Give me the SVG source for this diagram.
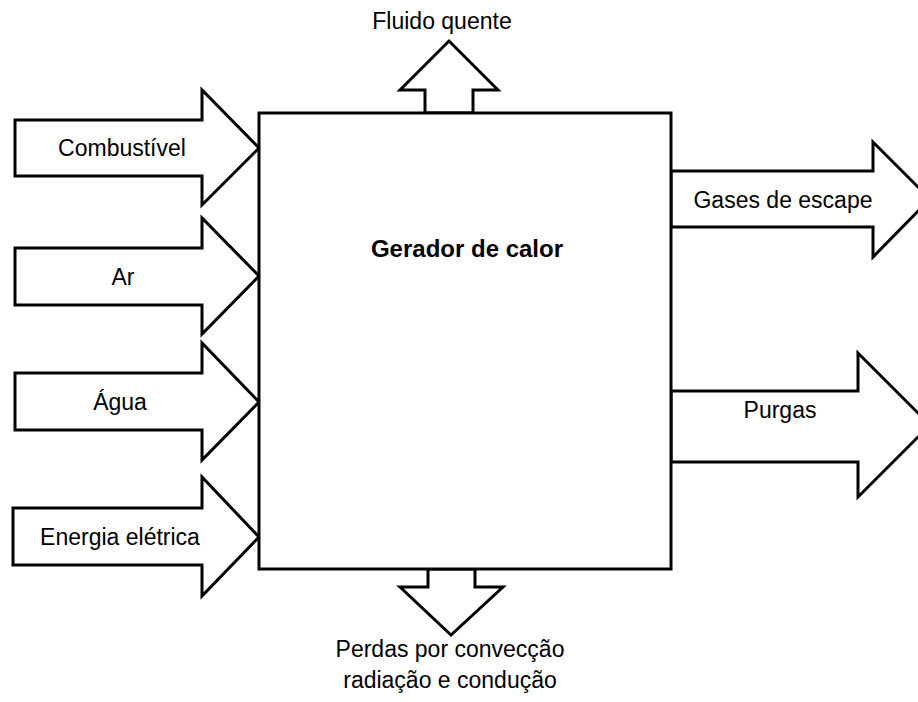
<svg xmlns="http://www.w3.org/2000/svg" width="918" height="702" viewBox="0 0 918 702">
<style>
.shape{fill:#fff;stroke:#000;stroke-width:3;stroke-linejoin:miter}
.t{font-family:"Liberation Sans",Arial,sans-serif;font-size:23px;fill:#000;text-anchor:middle}
.b{font-weight:bold;font-size:24px}
</style>
<rect width="918" height="702" fill="#fff"/>
<g id="connectors">
<g id="arrow-combustivel"><polygon class="shape" points="15,120 202,120 202,90 259,148 202,205 202,176 15,176"/><text class="t" x="122" y="156">Combustível</text></g>
<g id="arrow-ar"><polygon class="shape" points="15,248 202,248 202,218 259,276 202,334 202,305 15,305"/><text class="t" x="123" y="285">Ar</text></g>
<g id="arrow-agua"><polygon class="shape" points="15,373 202,373 202,343 259,402 202,460 202,430 15,430"/><text class="t" x="120" y="410">Água</text></g>
<g id="arrow-energia"><polygon class="shape" points="13,508 202,508 202,477 259,537 202,596 202,565 13,565"/><text class="t" x="120" y="545">Energia elétrica</text></g>
<g id="arrow-fluido"><polygon class="shape" points="425,113 425,90 400,90 449,41 498,90 473,90 473,113"/><text class="t" x="442" y="29">Fluido quente</text></g>
<g id="arrow-gases"><polygon class="shape" points="671,171 873,171 873,142 930,199 873,257 873,227 671,227"/><text class="t" x="783" y="208">Gases de escape</text></g>
<g id="arrow-purgas"><polygon class="shape" points="671,391 858,391 858,353 930,425 858,497 858,462 671,462"/><text class="t" x="780" y="418">Purgas</text></g>
<g id="arrow-perdas"><polygon class="shape" points="428,569 428,587 400,587 451,635 503,587 475,587 475,569"/><text class="t" x="450" y="657">Perdas por convecção</text><text class="t" x="450" y="688">radiação e condução</text></g>
</g>
<g id="node-gerador">
<rect class="shape" x="259" y="113" width="412" height="456"/>
<text class="t b" x="467" y="257">Gerador de calor</text>
</g>
</svg>
